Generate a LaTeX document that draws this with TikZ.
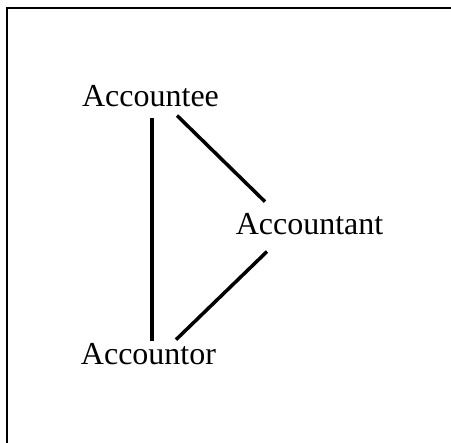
\documentclass[tikz,border=0pt]{standalone}
\usepackage{fontspec}
\setmainfont{Liberation Serif}
\begin{document}
\begin{tikzpicture}[x=1pt,y=-1pt,
  lbl/.style={anchor=base,inner sep=0pt,font=\fontsize{32}{36}\selectfont},
  link/.style={line width=3.5pt},
  frame/.style={line width=2pt}]
\useasboundingbox (0,0) rectangle (451,443);
\draw[frame] (7,443) -- (7,8) -- (451,8);
\node[lbl] (ee) at (150.5,107) {Accountee};
\node[lbl] (ant) at (309.5,235) {Accountant};
\node[lbl] (or) at (148.5,365) {Accountor};
\draw[link] ([shift={(1.5,10)}]ee.south) -- ([shift={(3.5,-3)}]or.north);
\draw[link] ([shift={(26.5,8)}]ee.south) -- ([shift={(-44.5,-12)}]ant.north);
\draw[link] ([shift={(-42.5,16)}]ant.south) -- ([shift={(27.5,-4)}]or.north);
\end{tikzpicture}
\end{document}
